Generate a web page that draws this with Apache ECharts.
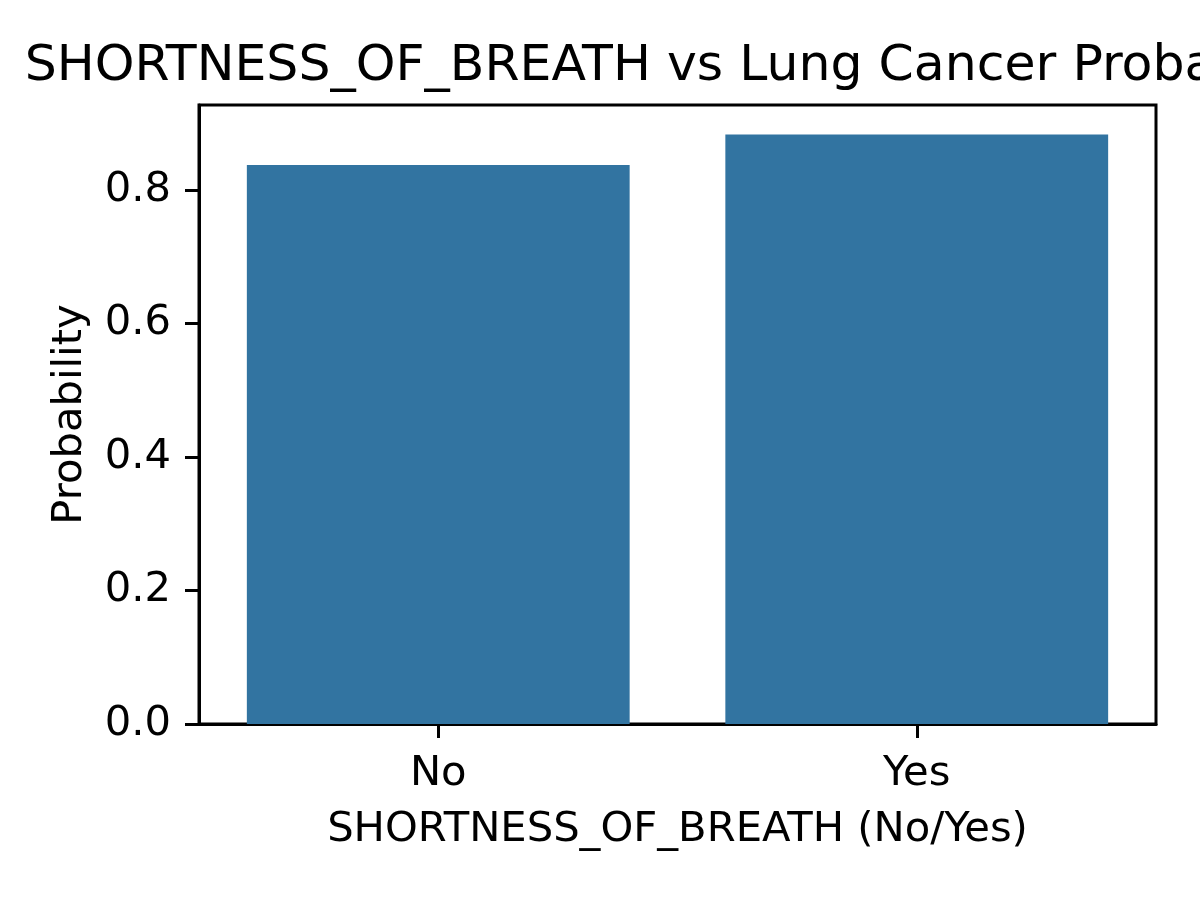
<!DOCTYPE html>
<html><head><meta charset="utf-8">
<script src="https://cdn.jsdelivr.net/npm/echarts@6/dist/echarts.min.js"></script>
<style>html,body{margin:0;padding:0;background:#fff}#c{width:1200px;height:900px}</style>
</head><body><div id="c"></div>
<script>
const categories = ['No', 'Yes'];
const probabilities = [0.837, 0.883];
const yTicks = [0, 0.2, 0.4, 0.6, 0.8];
const titleText = 'SHORTNESS_OF_BREATH vs Lung Cancer Probability';
const xName = 'SHORTNESS_OF_BREATH (No/Yes)';
const yName = 'Probability';

const F = 'DejaVu Sans';
const chart = echarts.init(document.getElementById('c'), null, {renderer: 'canvas'});
chart.setOption({
  animation: false,
  backgroundColor: '#fff',
  title: {
    text: titleText, left: 677, top: 36, textAlign: 'center',
    textStyle: {fontFamily: F, fontSize: 50.5, fontWeight: 'normal', color: '#000'}
  },
  grid: {left: 199, right: 44, top: 105, bottom: 176, show: true, borderColor: '#000', borderWidth: 3, backgroundColor: 'transparent'},
  xAxis: {
    type: 'category', data: categories, boundaryGap: true,
    name: xName, nameLocation: 'middle', nameGap: 85,
    nameTextStyle: {fontFamily: F, fontSize: 41.7, color: '#000'},
    axisLine: {show: true, lineStyle: {color: '#000', width: 3}},
    axisTick: {show: true, alignWithLabel: true, length: 14, lineStyle: {color: '#000', width: 3}},
    axisLabel: {fontFamily: F, fontSize: 41.7, color: '#000', margin: 29},
    splitLine: {show: false}
  },
  yAxis: {
    type: 'value', min: 0, max: 0.927, interval: 0.2,
    name: yName, nameLocation: 'middle', nameGap: 108, nameRotate: 90,
    nameTextStyle: {fontFamily: F, fontSize: 41.7, color: '#000'},
    axisLine: {show: true, lineStyle: {color: '#000', width: 3}},
    axisTick: {show: true, length: 14, customValues: yTicks, lineStyle: {color: '#000', width: 3}},
    axisLabel: {fontFamily: F, fontSize: 41.7, color: '#000', margin: 28, customValues: yTicks,
      formatter: v => v.toFixed(1)},
    splitLine: {show: false}
  },
  series: [{
    type: 'bar', data: probabilities, barCategoryGap: '20%',
    itemStyle: {color: '#3274a1'}
  }]
});
</script>
</body></html>
